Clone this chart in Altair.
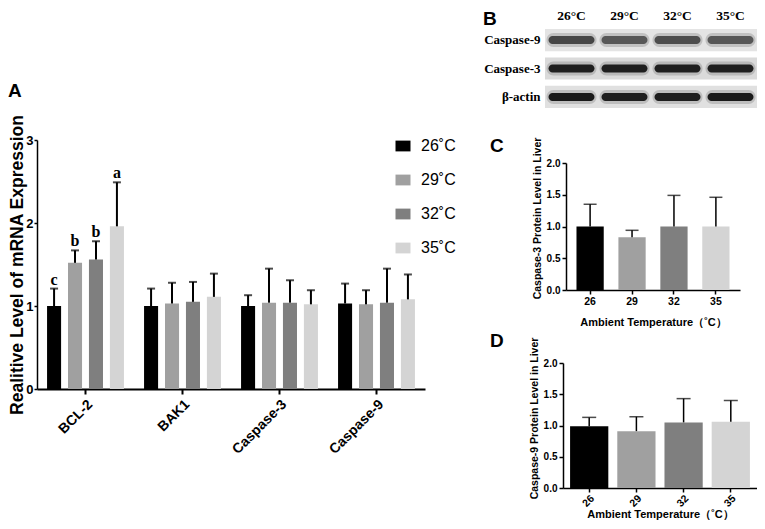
import altair as alt
import pandas as pd

# ---------------- data ----------------
temps = ["26˚C", "29˚C", "32˚C", "35˚C"]
temp_colors = ["#000000", "#a0a0a0", "#7f7f7f", "#d4d4d4"]
genes = ["BCL-2", "BAK1", "Caspase-3", "Caspase-9"]

bcl2_mean = [1.00, 1.52, 1.56, 1.96]
bcl2_upper = [1.21, 1.67, 1.78, 2.49]
bcl2_letters = ["c", "b", "b", "a"]
bak1_mean = [1.00, 1.03, 1.05, 1.11]
bak1_upper = [1.21, 1.28, 1.29, 1.39]
casp3_mean = [1.00, 1.04, 1.04, 1.02]
casp3_upper = [1.13, 1.45, 1.31, 1.19]
casp9_mean = [1.03, 1.02, 1.04, 1.08]
casp9_upper = [1.27, 1.19, 1.45, 1.38]

blot_temps = ["26°C", "29°C", "32°C", "35°C"]
blot_proteins = ["Caspase-9", "Caspase-3", "β-actin"]
blot_casp9 = [0.70, 0.60, 0.66, 0.60]
blot_casp3 = [0.92, 0.92, 0.92, 0.92]
blot_actin = [0.95, 0.92, 0.93, 0.95]
blot_bg = ["#e4e4e4", "#dadada", "#e0e0e0"]

prot_temps = ["26", "29", "32", "35"]
c3_prot_mean = [1.00, 0.83, 1.00, 1.00]
c3_prot_upper = [1.35, 0.94, 1.49, 1.46]
c9_prot_mean = [0.99, 0.91, 1.05, 1.06]
c9_prot_upper = [1.13, 1.14, 1.43, 1.40]

SANS = "Liberation Sans"
SERIF = "Liberation Serif"

W, H = 749, 513          # whole canvas size (no autosize; origin = page (8, 8))


def G(p):                # page pixel -> canvas pixel
    return p - 8


# ---------------- panel A ----------------
rows = []
for g, m, u in [("BCL-2", bcl2_mean, bcl2_upper), ("BAK1", bak1_mean, bak1_upper),
                ("Caspase-3", casp3_mean, casp3_upper), ("Caspase-9", casp9_mean, casp9_upper)]:
    for i, t in enumerate(temps):
        rows.append({"gene": g, "temp": t, "mean": m[i], "upper": u[i],
                     "letter": bcl2_letters[i] if g == "BCL-2" else ""})
a_df = pd.DataFrame(rows)

a_x0, a_x1, a_y0, a_y1 = G(37), G(425), G(389), G(140)
xA = alt.X("gene:N", sort=genes,
           scale=alt.Scale(paddingInner=0, paddingOuter=0, range=[a_x0, a_x1]),
           axis=alt.Axis(orient="bottom", offset=a_y0 - H, title=None, labelAngle=-45, labelFont=SANS,
                         labelFontWeight="bold", labelFontSize=14, labelColor="black", domainColor="black",
                         domainWidth=2, tickColor="black", tickWidth=2, tickSize=5, labelPadding=3))
xoA = alt.XOffset("temp:N", sort=temps, scale=alt.Scale(paddingInner=0.33, paddingOuter=0.48))
yA = alt.Y("mean:Q", scale=alt.Scale(domain=[0, 3], nice=False, range=[a_y0, a_y1]),
           axis=alt.Axis(orient="left", offset=-a_x0, values=[0, 1, 2, 3], format="d",
                         title="Realitive Level of mRNA Expression",
                         titleFont=SANS, titleFontSize=17.5, titleFontWeight="bold", titleColor="black",
                         titleBaseline="alphabetic", titleX=-15,
                         labelFont=SANS, labelFontWeight="bold", labelFontSize=13,
                         labelColor="black", domainColor="black", domainWidth=1.5, tickColor="black",
                         tickWidth=1.5, tickSize=3, grid=False, labelPadding=1))

a_base = alt.Chart(a_df)
a_bars = a_base.mark_bar().encode(
    x=xA, xOffset=xoA, y=yA,
    color=alt.Color("temp:N", sort=temps, scale=alt.Scale(domain=temps, range=temp_colors),
                    legend=alt.Legend(title=None, orient="none", legendX=G(395), legendY=G(138),
                                      labelFont=SANS, labelFontSize=16, labelColor="black",
                                      symbolType="M-1,-0.72H1V0.72H-1Z", symbolSize=225,
                                      symbolStrokeWidth=0, rowPadding=18, labelOffset=10)))
a_err = a_base.mark_rule(color="black", strokeWidth=2).encode(x=xA, xOffset=xoA, y="mean:Q", y2="upper:Q")
a_cap = a_base.mark_tick(color="black", thickness=2, size=8).encode(x=xA, xOffset=xoA, y="upper:Q")
a_txt = a_base.mark_text(font=SERIF, fontWeight="bold", fontSize=16, dy=-9, color="black").encode(
    x=xA, xOffset=xoA, y="upper:Q", text="letter:N")
panelA = alt.layer(a_bars, a_err, a_cap, a_txt)

# ---------------- panel B (blot) ----------------
brows = []
for p, vals, bg in zip(blot_proteins, [blot_casp9, blot_casp3, blot_actin], blot_bg):
    for i, t in enumerate(blot_temps):
        brows.append({"protein": p, "temp": t, "intensity": vals[i], "bg": bg})
b_df = pd.DataFrame(brows)

b_x0, b_x1, b_y0, b_y1 = G(545), G(757), G(29), G(108)
xB = alt.X("temp:N", sort=blot_temps, scale=alt.Scale(paddingInner=0, paddingOuter=0, range=[b_x0, b_x1]),
           axis=alt.Axis(orient="top", offset=-b_y0, title=None, labelAngle=0, labelFont=SERIF,
                         labelFontWeight="bold", labelFontSize=13.5, labelColor="black", domain=False,
                         ticks=False, labelPadding=7))
yB = alt.Y("protein:N", sort=blot_proteins,
           scale=alt.Scale(paddingInner=0.22, paddingOuter=0, range=[b_y0, b_y1]),
           axis=alt.Axis(orient="left", offset=-b_x0, title=None, domain=False, ticks=False, labelFont=SERIF,
                         labelFontWeight="bold", labelFontSize=13, labelColor="black", labelPadding=5))
b_base = alt.Chart(b_df)
b_bg = b_base.mark_rect().encode(x=xB, y=yB, color=alt.Color("bg:N", scale=None))
b_halo = b_base.mark_tick(orient="horizontal", size=50, thickness=14, cornerRadius=7, color="#444444").encode(
    x=xB, y=yB, opacity=alt.value(0.22))
b_core = b_base.mark_tick(orient="horizontal", size=46, thickness=8, cornerRadius=4, color="#111111").encode(
    x=xB, y=yB, opacity=alt.Opacity("intensity:Q", scale=None))
panelB = alt.layer(b_bg, b_halo, b_core)


# ---------------- panels C, D ----------------
def protein_panel(mean, upper, ytitle, x0, x1, y0, y1, pin, pout, angle, capsize, ttpad, ty, lpad):
    df = pd.DataFrame({"temp": prot_temps, "mean": mean, "upper": upper, "col": temp_colors})
    x = alt.X("temp:N", sort=prot_temps, scale=alt.Scale(paddingInner=pin, paddingOuter=pout, range=[x0, x1]),
              axis=alt.Axis(orient="bottom", offset=y0 - H, title="Ambient Temperature（˚C）", titleFont=SANS,
                            titleFontSize=11, titleFontWeight="bold", titleColor="black", titlePadding=ttpad,
                            labelAngle=angle, labelFont=SANS, labelFontWeight="bold", labelFontSize=10.5,
                            labelColor="black", domainColor="black", domainWidth=1.5, labelPadding=lpad,
                            tickColor="black", tickWidth=1.5, tickSize=4))
    y = alt.Y("mean:Q", scale=alt.Scale(domain=[0, 2], nice=False, range=[y0, y1]),
              axis=alt.Axis(orient="left", offset=-x0, values=[0, 0.5, 1, 1.5, 2], format=".1f",
                            title=ytitle, titleFont=SANS, titleFontSize=10.5, titleFontWeight="bold",
                            titleColor="black", titlePadding=4, titleY=ty, labelFont=SANS,
                            labelFontWeight="bold", labelFontSize=10, labelColor="black", domainColor="black",
                            domainWidth=1.5, tickColor="black", tickWidth=1.5, tickSize=4, grid=False,
                            labelPadding=2))
    base = alt.Chart(df)
    bars = base.mark_bar().encode(x=x, y=y, color=alt.Color("col:N", scale=None))
    err = base.mark_rule(color="black", strokeWidth=1.5).encode(x=x, y="mean:Q", y2="upper:Q")
    cap = base.mark_tick(color="black", thickness=1.5, size=capsize).encode(x=x, y="upper:Q")
    return alt.layer(bars, err, cap)


panelC = protein_panel(c3_prot_mean, c3_prot_upper, "Caspase-3 Protein Level in Liver",
                       G(566), G(740), G(290), G(163), 0.35, 0.25, 0, 13, 10, G(218), 2)
panelD = protein_panel(c9_prot_mean, c9_prot_upper, "Caspase-9 Protein Level in Liver",
                       G(563), G(757), G(488), G(363), 0.19, 0.15, -45, 14, 0, G(418), 1)


# ---------------- panel letters ----------------
def letter(t, px, py):
    return alt.Chart(pd.DataFrame({"_": [0]})).mark_text(
        font=SANS, fontSize=19, fontWeight="bold", color="black", align="left", baseline="alphabetic"
    ).encode(x=alt.value(G(px)), y=alt.value(G(py)), text=alt.value(t))


letters = alt.layer(letter("A", 8, 97), letter("B", 483, 25), letter("C", 490, 152), letter("D", 490, 347))

chart = alt.layer(panelA, panelB, panelC, panelD, letters).resolve_scale(
    x="independent", y="independent", color="independent", opacity="independent"
).resolve_axis(x="independent", y="independent").properties(
    width=W, height=H, padding=0, autosize=alt.AutoSizeParams(type="none"),
    view=alt.ViewBackground(stroke=None, strokeWidth=0)
).configure_view(stroke=None, strokeWidth=0).configure_axis(grid=False).configure(
    background="white")

chart.save("out.html", embed_options={"renderer": "svg", "actions": False})
